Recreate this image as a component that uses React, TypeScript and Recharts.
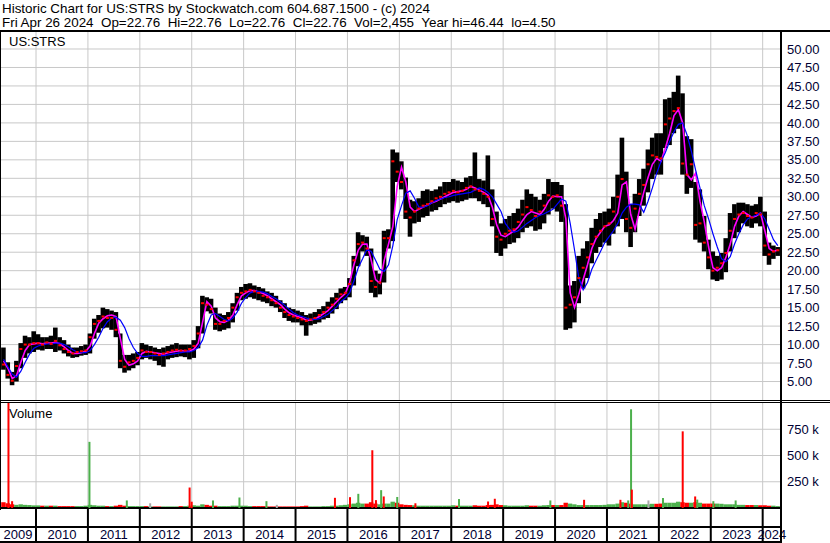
import React from 'react';
import { ComposedChart, Bar, Line, Scatter, XAxis, YAxis, CartesianGrid, Cell } from 'recharts';

// monthly bars, May 2009 .. Apr 2024 (one value per month)
const lows = [
    6.6, 5.4, 4.5, 5.0, 6.8, 8.2, 8.8, 9.0,
    9.3, 9.2, 9.4, 9.4, 9.0, 9.2, 8.8, 8.4, 8.2, 8.3, 8.5, 8.6,
    8.8, 10.8, 11.6, 12.2, 12.3, 12.0, 11.0, 6.8, 6.2, 6.5, 6.8, 7.2,
    8.0, 8.2, 8.0, 7.8, 7.2, 7.0, 8.0, 8.2, 8.3, 8.4, 8.3, 8.0,
    8.2, 9.5, 11.5, 14.5, 14.2, 12.0, 11.8, 12.0, 12.2, 13.0, 14.6, 16.0,
    16.2, 16.4, 16.2, 16.0, 15.8, 15.6, 15.2, 15.0, 14.4, 13.6, 13.2, 13.0,
    13.0, 12.6, 11.2, 12.6, 12.8, 13.0, 13.4, 13.6, 14.2, 14.8, 15.6, 16.0,
    16.4, 18.0, 20.6, 22.6, 22.0, 17.0, 16.4, 16.8, 18.4, 23.0, 24.0, 32.0,
    31.0, 27.0, 24.6, 26.4, 26.6, 27.2, 27.4, 28.0, 28.2, 28.6, 29.0, 29.2,
    29.4, 29.2, 29.4, 29.6, 29.8, 29.8, 29.4, 29.0, 28.6, 26.0, 22.4, 22.0,
    23.0, 23.6, 23.8, 24.4, 25.2, 25.8, 26.0, 25.4, 25.6, 26.4, 27.6, 28.4,
    28.0, 26.6, 12.0, 12.2, 13.0, 15.6, 17.6, 19.0, 21.0, 22.4, 23.2, 23.8,
    23.4, 25.0, 26.0, 27.0, 25.2, 23.2, 25.2, 27.4, 28.8, 30.6, 32.4, 33.0,
    33.0, 36.6, 37.0, 38.6, 39.2, 33.0, 30.4, 31.2, 24.2, 23.8, 22.6, 20.2,
    18.8, 18.6, 18.8, 19.8, 22.6, 24.4, 25.2, 26.4, 26.0, 25.8, 26.4, 26.0,
    22.0, 20.8, 21.6, 22.0,
];
const highs = [
    9.6, 7.6, 6.3, 7.8, 10.2, 11.2, 11.0, 11.8,
    11.4, 11.0, 11.0, 11.2, 12.3, 11.0, 10.6, 10.0, 9.6, 9.6, 9.8, 10.0,
    11.5, 13.5, 14.0, 15.0, 14.8, 14.6, 14.4, 11.5, 8.6, 8.6, 8.8, 9.0,
    10.2, 10.0, 9.8, 9.6, 9.4, 9.6, 9.8, 10.0, 10.2, 10.0, 10.0, 10.0,
    10.6, 12.5, 16.6, 16.4, 16.2, 15.0, 14.2, 14.0, 14.4, 15.6, 17.0, 17.8,
    18.2, 18.3, 18.0, 17.8, 17.6, 17.2, 17.0, 16.6, 16.0, 15.6, 15.0, 14.8,
    14.6, 14.4, 14.0, 14.2, 14.4, 14.8, 15.2, 15.8, 16.4, 17.0, 17.6, 17.8,
    19.0, 22.0, 25.2, 24.8, 24.6, 23.0, 20.0, 19.6, 25.4, 25.6, 36.4, 36.0,
    34.8, 32.6, 29.6, 29.4, 29.8, 30.8, 31.0, 30.8, 31.0, 31.4, 32.0, 32.0,
    32.4, 32.2, 32.0, 32.6, 32.8, 36.0, 32.4, 32.2, 35.6, 31.0, 28.0, 26.4,
    27.0, 27.4, 27.8, 28.4, 29.6, 31.0, 30.4, 30.0, 29.6, 30.4, 32.4, 32.0,
    32.0, 31.6, 29.0, 18.0, 18.6, 22.0, 23.0, 24.0, 25.8, 27.0, 27.8, 28.0,
    28.4, 30.0, 33.0, 38.0, 33.4, 29.0, 30.4, 32.4, 33.8, 36.4, 38.0, 38.6,
    38.6, 43.2, 43.4, 44.2, 46.4, 44.0, 38.2, 37.8, 32.0, 31.0, 27.4, 24.2,
    22.6, 22.0, 22.4, 24.4, 27.8, 29.0, 29.2, 29.2, 29.0, 28.8, 29.0, 30.0,
    28.0, 23.8, 23.4, 23.2,
];
const closes = [
    7.3, 5.9, 5.1, 7.1, 9.4, 10.0, 10.0, 10.2,
    10.2, 10.0, 10.3, 10.1, 10.5, 9.9, 9.4, 9.0, 8.8, 9.0, 9.1, 9.2,
    11.0, 12.8, 13.2, 13.8, 13.6, 13.6, 12.0, 7.8, 7.0, 7.6, 7.8, 8.2,
    9.2, 9.0, 9.0, 8.8, 8.6, 8.8, 9.0, 9.2, 9.3, 9.2, 9.2, 9.4,
    9.8, 11.5, 15.6, 15.4, 14.8, 12.8, 12.8, 13.2, 13.6, 15.0, 16.4, 17.0,
    17.2, 17.4, 17.2, 17.0, 16.6, 16.4, 16.0, 15.6, 15.0, 14.4, 14.0, 13.8,
    13.6, 13.4, 13.2, 13.4, 13.6, 14.0, 14.4, 15.0, 15.4, 16.2, 16.8, 17.0,
    18.2, 21.4, 23.6, 23.8, 23.0, 18.6, 17.8, 18.4, 24.4, 24.4, 34.8, 33.4,
    32.0, 28.0, 27.2, 28.0, 28.4, 28.8, 29.0, 29.4, 29.8, 30.0, 30.4, 30.6,
    30.8, 30.6, 30.8, 31.2, 31.4, 31.0, 30.8, 30.4, 30.0, 27.0, 24.6, 24.2,
    25.0, 25.4, 25.6, 26.6, 27.6, 28.6, 28.2, 27.4, 28.0, 28.8, 30.2, 30.0,
    30.2, 28.8, 15.0, 15.4, 16.4, 19.0, 20.4, 21.8, 23.6, 24.6, 25.4, 26.0,
    26.4, 28.0, 30.0, 32.4, 27.0, 25.8, 28.4, 30.4, 31.6, 34.4, 35.6, 35.4,
    35.2, 39.8, 40.6, 41.6, 42.0, 34.5, 33.0, 34.4, 26.2, 26.4, 23.8, 21.8,
    20.0, 20.4, 21.0, 22.4, 25.4, 27.0, 27.6, 27.8, 27.4, 27.2, 27.8, 27.6,
    23.4, 22.2, 22.6, 22.76,
];
// short moving average (magenta)
const fastAvg = [
    7.8, 6.8, 5.4, 5.8, 7.6, 9.2, 10.0, 10.1,
    10.2, 10.1, 10.2, 10.2, 10.3, 10.1, 9.7, 9.2, 8.8, 8.8, 8.9, 9.1,
    9.8, 11.5, 12.9, 13.5, 13.9, 14.0, 13.8, 10.8, 8.0, 7.2, 7.4, 7.8,
    8.8, 9.1, 9.0, 8.9, 8.8, 8.7, 8.9, 9.0, 9.1, 9.2, 9.1, 9.1,
    9.4, 10.2, 13.0, 15.8, 15.2, 13.6, 13.1, 13.0, 13.3, 14.0, 15.4, 16.6,
    17.0, 17.3, 17.3, 17.1, 16.9, 16.6, 16.2, 15.8, 15.4, 14.8, 14.3, 14.0,
    13.8, 13.6, 13.3, 13.3, 13.5, 13.8, 14.2, 14.6, 15.2, 15.8, 16.4, 16.9,
    18.4, 20.8, 22.8, 23.6, 23.6, 21.4, 18.8, 18.3, 21.4, 23.6, 26.0, 31.4,
    34.0, 32.0, 28.6, 28.0, 28.3, 28.6, 28.9, 29.2, 29.4, 29.7, 30.0, 30.3,
    30.6, 30.7, 30.8, 31.0, 31.4, 31.2, 30.9, 30.6, 30.2, 28.6, 26.2, 24.8,
    24.6, 25.0, 25.4, 25.9, 26.8, 27.6, 28.0, 27.8, 27.6, 28.3, 29.4, 30.1,
    30.0, 30.0, 27.0, 17.0, 15.0, 16.8, 18.8, 20.8, 23.0, 24.4, 25.2, 26.0,
    26.2, 26.8, 27.8, 31.6, 32.0, 27.6, 25.6, 28.2, 30.6, 32.6, 34.4, 35.2,
    34.8, 36.6, 38.6, 41.0, 41.8, 40.0, 33.0, 32.3, 33.2, 29.4, 26.6, 23.2,
    20.4, 20.0, 20.4, 21.8, 23.6, 26.0, 27.4, 28.0, 27.6, 27.2, 27.4, 27.8,
    25.4, 23.0, 22.6, 22.8,
];
// long moving average (blue)
const slowAvg = [
    8.0, 7.0, 6.0, 5.6, 6.4, 7.6, 8.7, 9.5,
    9.8, 10.0, 10.1, 10.1, 10.2, 10.2, 10.0, 9.7, 9.3, 9.0, 8.9, 8.9,
    9.2, 10.0, 11.0, 12.2, 13.1, 13.6, 13.7, 13.3, 12.3, 10.8, 9.6, 8.8,
    8.4, 8.4, 8.5, 8.5, 8.5, 8.5, 8.6, 8.7, 8.8, 8.9, 9.0, 9.0,
    9.2, 9.6, 10.6, 12.6, 14.0, 14.2, 13.8, 13.4, 13.2, 13.6, 14.4, 15.6,
    16.4, 17.0, 17.2, 17.2, 17.1, 16.9, 16.5, 16.2, 15.8, 15.3, 14.8, 14.3,
    14.0, 13.8, 13.6, 13.4, 13.4, 13.5, 13.8, 14.1, 14.6, 15.1, 15.8, 16.3,
    17.0, 18.6, 20.4, 21.6, 22.9, 22.6, 21.4, 20.2, 19.9, 20.8, 23.4, 26.9,
    28.8, 30.5, 30.8, 29.8, 28.6, 28.6, 28.8, 29.2, 29.5, 29.7, 29.9, 30.0,
    30.2, 30.3, 30.4, 30.5, 30.6, 30.9, 31.2, 31.0, 30.6, 30.0, 29.0, 28.0,
    26.4, 25.6, 25.2, 25.4, 25.9, 26.4, 26.8, 27.2, 27.5, 27.7, 28.0, 28.3,
    29.0, 29.7, 29.4, 26.4, 22.8, 19.0, 17.4, 18.4, 20.2, 21.4, 22.6, 23.8,
    24.6, 25.4, 26.4, 27.8, 28.6, 29.0, 29.0, 28.9, 27.9, 29.4, 31.2, 33.2,
    34.8, 36.0, 37.5, 38.8, 39.8, 40.0, 38.4, 36.2, 33.6, 31.2, 28.8, 27.0,
    25.0, 23.2, 21.6, 21.2, 21.9, 23.6, 25.0, 26.2, 27.0, 27.3, 27.5, 27.8,
    27.0, 25.6, 24.2, 23.4,
];
// typical daily volume per month, thousands of shares
const volBase = [
    55, 45, 35, 30, 35, 30, 28, 25,
    25, 22, 22, 22, 22, 18, 18, 18, 18, 18, 18, 22,
    30, 26, 22, 22, 18, 18, 22, 30, 22, 18, 18, 18,
    18, 18, 15, 15, 15, 15, 15, 15, 15, 18, 18, 22,
    26, 22, 35, 30, 22, 22, 18, 18, 18, 22, 22, 22,
    22, 18, 18, 18, 18, 15, 15, 15, 15, 15, 15, 15,
    15, 18, 22, 15, 15, 15, 18, 18, 22, 22, 26, 30,
    35, 42, 50, 42, 42, 55, 42, 35, 42, 42, 60, 50,
    35, 30, 28, 26, 22, 22, 22, 22, 22, 22, 22, 22,
    26, 22, 22, 22, 22, 26, 22, 22, 28, 30, 35, 28,
    26, 22, 22, 22, 22, 26, 22, 22, 22, 26, 28, 28,
    28, 28, 50, 42, 35, 28, 28, 28, 28, 28, 28, 30,
    35, 35, 42, 55, 50, 42, 35, 35, 35, 35, 40, 40,
    42, 50, 50, 50, 60, 55, 50, 50, 55, 50, 42, 42,
    42, 42, 40, 35, 35, 35, 30, 30, 28, 28, 28, 26,
    26, 22, 22, 18,
];

// single-day volume spikes
const spikeDates = [
    2009.47, 2009.54, 2011.03, 2011.75, 2012.2, 2012.96, 2013.0, 2013.41, 2013.92,
    2014.44, 2014.64, 2015.76, 2016.05, 2016.21, 2016.48, 2016.55, 2016.65, 2016.7,
    2016.96, 2017.31, 2018.15, 2018.71, 2018.84, 2019.91, 2020.56, 2021.26, 2021.41,
    2021.465, 2021.48, 2021.8, 2022.08, 2022.46, 2022.7, 2022.74, 2023.05, 2023.48,
];
const spikeVols = [
    1200, 65, 630, 72, 45, 195, 60, 72, 100,
    65, 30, 97, 103, 135, 550, 75, 170, 110,
    105, 45, 85, 62, 88, 72, 78, 78, 72,
    940, 175, 72, 95, 730, 110, 80, 65, 72,
];
const spikeKinds = [
    'd', 'd', 'u', 'u', 'n', 'd', 'd', 'u', 'u',
    'u', 'n', 'd', 'd', 'u', 'd', 'd', 'u', 'd',
    'u', 'd', 'u', 'd', 'd', 'u', 'd', 'd', 'u',
    'u', 'd', 'n', 'u', 'd', 'd', 'u', 'u', 'u',
];

const YEARS = [2009, 2010, 2011, 2012, 2013, 2014, 2015, 2016, 2017, 2018, 2019, 2020, 2021, 2022, 2023, 2024];
const YEAR_LINES = YEARS.slice(1);
const PRICE_TICKS = [5, 7.5, 10, 12.5, 15, 17.5, 20, 22.5, 25, 27.5, 30, 32.5, 35, 37.5, 40, 42.5, 45, 47.5, 50];
const VOL_TICKS = [250000, 500000, 750000];

const X_DOMAIN: [number, number] = [2009.306, 2024.353];
const FONT = '"Liberation Sans", Arial, sans-serif';
const INK = '#000033';
const GREEN = '#4cb04c';
const RED = '#ff0000';
const GREY = '#a8a8a8';
const GRID = '#c8c8c8';

const priceRows = lows.map((lo, i) => ({
    t: 2009 + (4 + i + 0.5) / 12,
    range: [lo, highs[i]],
    close: closes[i],
    fast: fastAvg[i],
    slow: slowAvg[i],
}));

const volRows = volBase.map((v, i) => ({
    t: 2009 + (4 + i + 0.5) / 12,
    vol: v * 1000,
    color: i > 0 && closes[i] >= closes[i - 1] ? GREEN : RED,
}));

const spikeRows = spikeDates.map((t, i) => ({
    t,
    vol: spikeVols[i] * 1000,
    color: spikeKinds[i] === 'u' ? GREEN : spikeKinds[i] === 'd' ? RED : GREY,
}));

// centre of each year's visible span, for the year captions
const labelPos = YEARS.map((y) => (Math.max(y, X_DOMAIN[0]) + Math.min(y + 1, X_DOMAIN[1])) / 2);
const BOTTOM_TICKS = [...YEAR_LINES, ...labelPos].sort((a, b) => a - b);

// bar drawn at a fixed pixel width, centred where recharts placed it
const fixedBar = (w: number) => (props: any) => {
    const { x, y, width, height, fill } = props;
    if (height == null || isNaN(height)) return null;
    return <rect x={x + width / 2 - w / 2} y={y} width={w} height={Math.max(height, 0)} fill={fill} />;
};
const PriceBlock = fixedBar(4.6);
const VolBlock = fixedBar(4.4);
const SpikeBar = fixedBar(2);

const CloseTick = (props: any) => {
    const { cx, cy } = props;
    return <rect x={cx - 1.5} y={cy - 1} width={3} height={2} fill={RED} />;
};

const YearTick = (props: any) => {
    const { x, y, payload } = props;
    const v = payload.value;
    if (YEAR_LINES.includes(v)) {
        return <line x1={x} x2={x} y1={y} y2={y + 34} stroke="#000" strokeWidth={2} />;
    }
    return (
        <text x={x} y={y + 31} textAnchor="middle" fontSize={13} fontFamily={FONT} fill={INK}>
            {Math.floor(v)}
        </text>
    );
};

const hLine = (top: number, width: number, h = 1): React.CSSProperties => ({
    position: 'absolute', left: 0, top, width, height: h, background: '#000',
});

const textStyle: React.CSSProperties = {
    position: 'absolute', fontFamily: FONT, fontSize: 13, lineHeight: '13px', color: '#000', whiteSpace: 'pre',
};

export default function App() {
    return (
        <div style={{ position: 'relative', width: 830, height: 543, overflow: 'hidden', background: '#fff' }}>
            <style>{'body{margin:0}'}</style>

            <div style={{ ...textStyle, fontSize: 13.4, left: 2, top: 1.5 }}>
                Historic Chart for US:STRS by Stockwatch.com 604.687.1500 - (c) 2024
            </div>
            <div style={{ ...textStyle, fontSize: 13.4, left: 2, top: 15.5 }}>
                {'Fri Apr 26 2024  Op=22.76  Hi=22.76  Lo=22.76  Cl=22.76  Vol=2,455  Year hi=46.44  lo=4.50'}
            </div>

            {/* price panel */}
            <div style={{ position: 'absolute', left: 0, top: 32 }}>
                <ComposedChart width={830} height={368} data={priceRows} margin={{ top: 0, right: 0, bottom: 0, left: 0 }}>
                    <CartesianGrid stroke={GRID} verticalValues={YEAR_LINES} horizontalValues={PRICE_TICKS} />
                    <XAxis dataKey="t" type="number" domain={X_DOMAIN} allowDataOverflow hide />
                    <YAxis
                        orientation="right"
                        width={49}
                        domain={[2.5, 52.3]}
                        allowDataOverflow
                        ticks={PRICE_TICKS}
                        interval={0}
                        tickFormatter={(v: number) => v.toFixed(2)}
                        axisLine={false}
                        tickLine={false}
                        tickMargin={0}
                        tick={{ fill: INK, fontSize: 13, fontFamily: FONT }}
                    />
                    <Bar dataKey="range" fill="#000" barSize={4} shape={PriceBlock} isAnimationActive={false} />
                    <Scatter dataKey="close" fill={RED} shape={CloseTick} isAnimationActive={false} />
                    <Line dataKey="fast" stroke="#ff00ff" strokeWidth={1.6} dot={false} isAnimationActive={false} />
                    <Line dataKey="slow" stroke="#0000ff" strokeWidth={1.2} dot={false} isAnimationActive={false} />
                </ComposedChart>
            </div>
            <div style={{ ...textStyle, left: 9, top: 35 }}>US:STRS</div>

            {/* volume panel */}
            <div style={{ position: 'absolute', left: 0, top: 403, width: 830, height: 140 }}>
                <div style={{ position: 'absolute', left: 0, top: 0 }}>
                    <ComposedChart width={830} height={140} data={volRows} margin={{ top: 0, right: 0, bottom: 0, left: 0 }}>
                        <CartesianGrid stroke={GRID} verticalValues={YEAR_LINES} horizontalValues={VOL_TICKS} />
                        <XAxis
                            dataKey="t"
                            type="number"
                            domain={X_DOMAIN}
                            allowDataOverflow
                            height={35}
                            ticks={BOTTOM_TICKS}
                            interval={0}
                            tick={<YearTick />}
                            tickLine={false}
                            tickSize={0}
                            tickMargin={0}
                            axisLine={{ stroke: '#000', strokeWidth: 2 }}
                        />
                        <YAxis
                            orientation="right"
                            width={49}
                            domain={[0, 1000000]}
                            allowDataOverflow
                            ticks={VOL_TICKS}
                            interval={0}
                            tickFormatter={(v: number) => `${v / 1000} k`}
                            axisLine={false}
                            tickLine={false}
                            tickMargin={0}
                            tick={{ fill: INK, fontSize: 13, fontFamily: FONT }}
                        />
                        <Bar dataKey="vol" barSize={4} shape={VolBlock} isAnimationActive={false}>
                            {volRows.map((r, i) => <Cell key={i} fill={r.color} />)}
                        </Bar>
                    </ComposedChart>
                </div>
                <div style={{ position: 'absolute', left: 0, top: 0 }}>
                    <ComposedChart width={830} height={140} data={spikeRows} margin={{ top: 0, right: 49, bottom: 35, left: 0 }}>
                        <XAxis dataKey="t" type="number" domain={X_DOMAIN} allowDataOverflow hide />
                        <YAxis hide domain={[0, 1000000]} allowDataOverflow />
                        <Bar dataKey="vol" barSize={2} shape={SpikeBar} isAnimationActive={false}>
                            {spikeRows.map((r, i) => <Cell key={i} fill={r.color} />)}
                        </Bar>
                    </ComposedChart>
                </div>
            </div>
            <div style={{ ...textStyle, left: 9, top: 407 }}>Volume</div>

            {/* frame */}
            <div style={hLine(30, 830, 2)} />
            <div style={hLine(400, 830)} />
            <div style={hLine(402, 830)} />
            <div style={hLine(526, 781, 2)} />
            <div style={hLine(541, 781, 2)} />
            <div style={{ position: 'absolute', left: 780, top: 30, width: 2, height: 513, background: '#000' }} />
            <div style={{ position: 'absolute', left: 0, top: 32, width: 1, height: 478, background: '#000' }} />
        </div>
    );
}
